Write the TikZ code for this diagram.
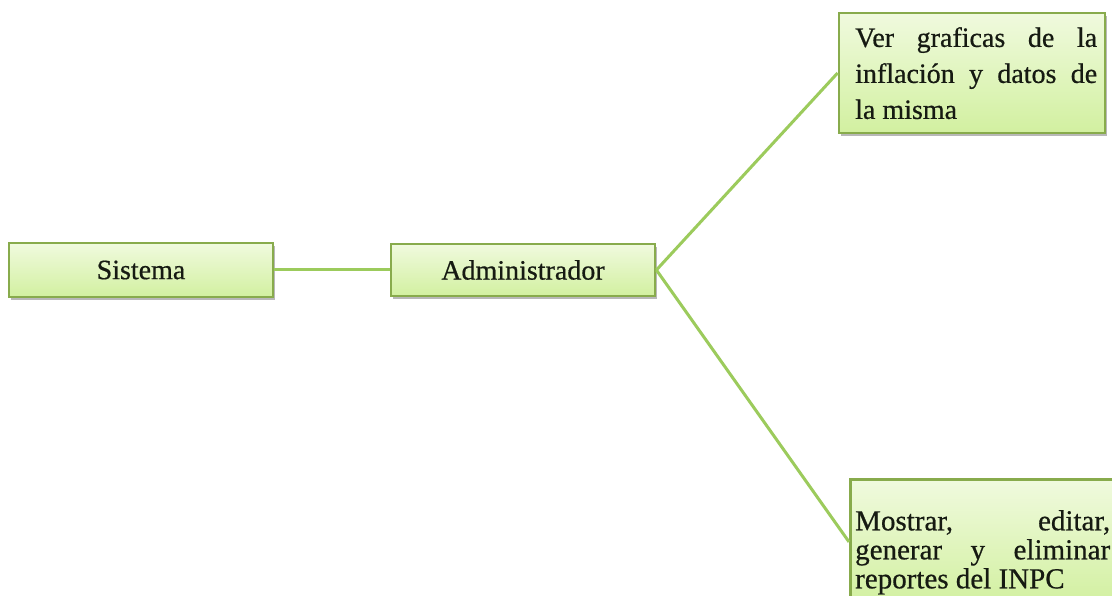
\documentclass[tikz,border=0pt]{standalone}
\usepackage{fontspec}
\setmainfont{Liberation Serif}[FakeBold=0.6]
\usetikzlibrary{shadows}
\definecolor{boxedge}{HTML}{88AB4C}
\definecolor{boxtop}{HTML}{F0FADE}
\definecolor{boxbot}{HTML}{D2F0A0}
\definecolor{linkc}{HTML}{9CCB5C}
\definecolor{txtc}{HTML}{161A12}
\begin{document}
\begin{tikzpicture}[x=1pt,y=-1pt,
  box/.style={draw=boxedge, line width=2.8pt, top color=boxtop, bottom color=boxbot,
    drop shadow={shadow xshift=2pt, shadow yshift=-3pt, fill=black!55, opacity=0.5},
    inner sep=0pt, text=txtc, font=\fontsize{28}{32}\selectfont},
  link/.style={draw=linkc, line width=3pt},
  txt/.style={inner sep=0pt, text=txtc, align=justify}]
\useasboundingbox (0,0) rectangle (1112,596);
\fill[white] (0,0) rectangle (1112,596);
\clip (0,0) rectangle (1112,596);
\node[box, minimum width=264pt, minimum height=54pt] (sis) at (141,270) {Sistema};
\node[box, minimum width=264pt, minimum height=52pt] (adm) at (523,270) {Administrador};
\node[box, minimum width=266pt, minimum height=120pt] (ver) at (972,73) {};
\node[box, minimum width=268pt, minimum height=125pt, anchor=north west] (rep) at (849,478) {};
\draw[link] (sis.east) -- (adm.west);
\draw[link] (adm.east) -- (ver.west);
\draw[link] (adm.east) -- (rep.west);
\node[txt, text width=242pt, anchor=north west, font=\fontsize{28}{36}\selectfont] (vertext) at (855,27)
  {Ver graficas de la\linebreak inflación y datos de\linebreak la misma};
\node[txt, text width=255pt, anchor=north west, font=\fontsize{29}{29}\selectfont] (reptext) at (855,510)
  {Mostrar, editar,\linebreak generar y eliminar\linebreak reportes del INPC};
\end{tikzpicture}
\end{document}
